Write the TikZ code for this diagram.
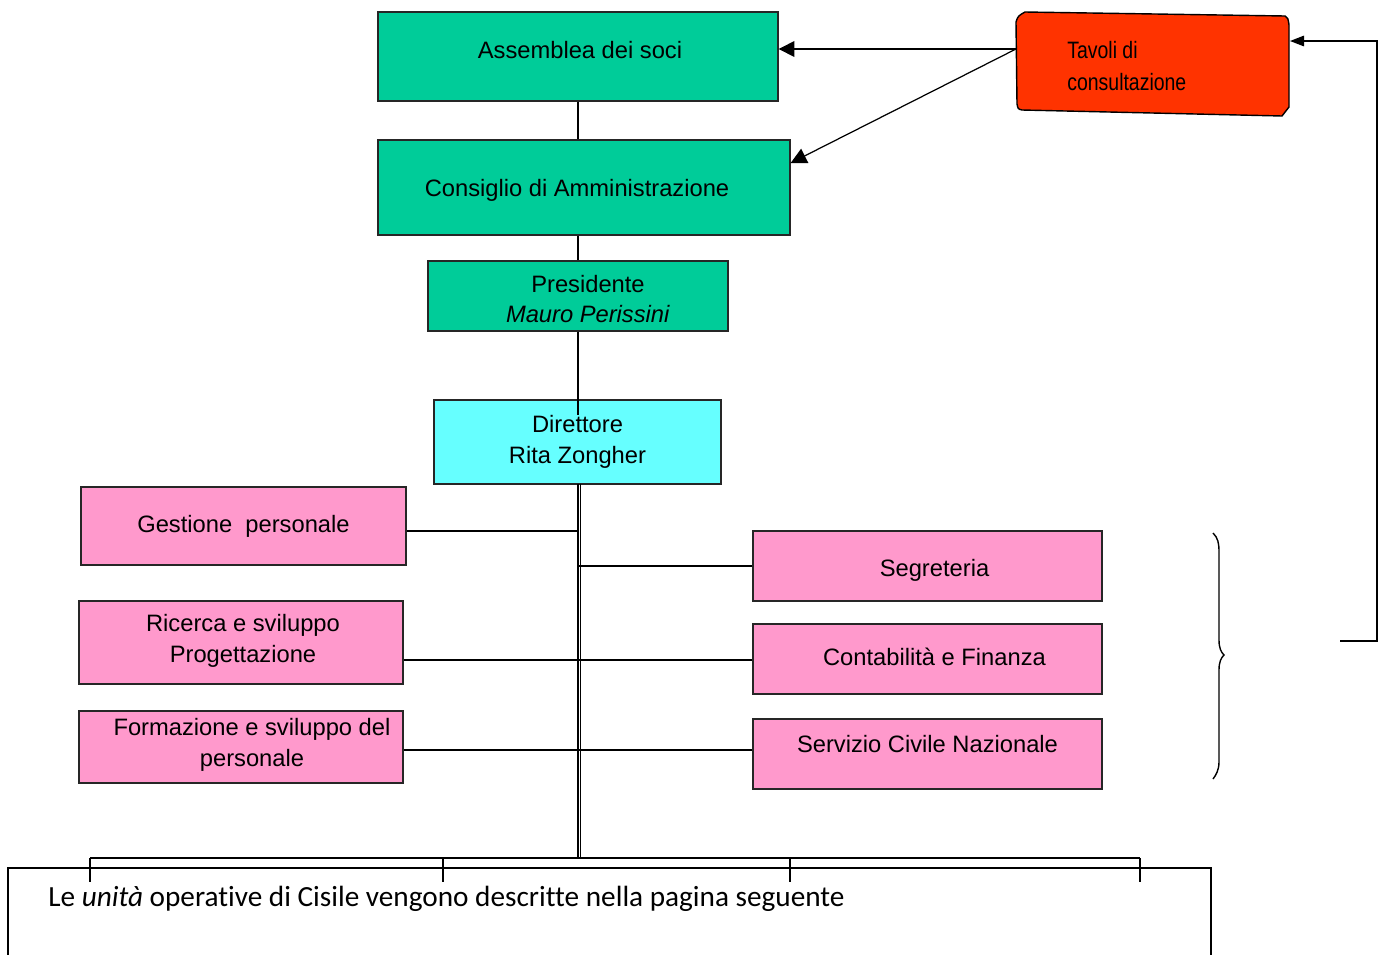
\documentclass[tikz,border=0pt]{standalone}
\usepackage{fontspec}
\setmainfont{Liberation Sans}
\newfontfamily\narrowfont[FakeStretch=0.82]{Liberation Sans}
\newfontfamily\calibri[Ligatures=NoCommon]{Carlito}
\usetikzlibrary{arrows.meta,calc}
\definecolor{cgreen}{HTML}{00CC99}
\definecolor{ccyan}{HTML}{66FFFF}
\definecolor{cpink}{HTML}{FF99CC}
\definecolor{cred}{HTML}{FF3300}
\begin{document}
\begin{tikzpicture}[x=0.02cm,y=-0.02cm,
  box/.style={draw=black!85, line width=0.8pt, inner sep=0pt, align=center,
    font=\fontsize{13.5}{17.5}\selectfont},
  gbox/.style={box, fill=cgreen},
  pbox/.style={box, fill=cpink},
  conn/.style={line width=0.65pt, black},
  arr/.style={line width=0.7pt, -{Triangle[length=9pt,width=9pt]}},
  arrs/.style={line width=0.8pt, -{Triangle[length=8pt,width=6pt]}},
  lbl/.style={font=\fontsize{13.5}{17.5}\selectfont, align=center, inner sep=0pt}]
\useasboundingbox (0,0) rectangle (1387,954);

% top boxes
\node[gbox, minimum width=8cm, minimum height=1.78cm,
  label={[lbl, xshift=0.04cm, yshift=0.13cm]center:Assemblea dei soci}] (ass) at (578,56.5) {};
\node[gbox, minimum width=8.24cm, minimum height=1.9cm,
  label={[lbl, xshift=-0.14cm, yshift=-0.05cm]center:Consiglio di Amministrazione}] (cda) at (584,187.5) {};
\node[gbox, minimum width=6cm, minimum height=1.4cm,
  label={[lbl, xshift=0.2cm, yshift=-0.06cm]center:Presidente\\\textit{Mauro Perissini}}] (pres) at (578,296) {};
\node[box, fill=ccyan, minimum width=5.74cm, minimum height=1.68cm] (dir) at (577.5,442) {Direttore\\Rita Zongher};

% red box
\draw[fill=cred, line width=0.8pt] (1025,12) -- (1285,16) .. controls (1288,18) .. (1289,25)
  -- (1289,107) -- (1282,116) -- (1022,110) .. controls (1018,109) .. (1017,104)
  -- (1016,22) .. controls (1018,16) .. (1025,12) -- cycle;
\node[anchor=west, align=left, inner sep=0pt, font=\narrowfont\fontsize{13.5}{18}\selectfont] (tav) at (1067,66) {Tavoli di\\consultazione};
\coordinate (tl) at (1016,49);

% left boxes
\node[pbox, minimum width=6.5cm, minimum height=1.56cm] (gest) at (243.5,526) {Gestione\ \ personale};
\node[pbox, minimum width=6.48cm, minimum height=1.66cm,
  label={[lbl, xshift=0.04cm, yshift=0.03cm]center:Ricerca e sviluppo\\Progettazione}] (ric) at (241,642.5) {};
\node[pbox, minimum width=6.48cm, minimum height=1.44cm,
  label={[lbl, xshift=0.22cm, yshift=0.04cm]center:Formazione e sviluppo del\\personale}] (form) at (241,747) {};

% right boxes
\node[pbox, minimum width=6.98cm, minimum height=1.4cm,
  label={[lbl, xshift=0.14cm, yshift=-0.08cm]center:Segreteria}] (seg) at (927.5,566) {};
\node[pbox, minimum width=6.98cm, minimum height=1.4cm,
  label={[lbl, xshift=0.14cm, yshift=0.04cm]center:Contabilità e Finanza}] (cont) at (927.5,659) {};
\node[pbox, minimum width=6.98cm, minimum height=1.4cm,
  label={[lbl, yshift=0.2cm]center:Servizio Civile Nazionale}] (serv) at (927.5,754) {};

% vertical chain
\draw[conn] (ass.south -| 578,0) -- (cda.north -| 578,0);
\draw[conn] (cda.south -| 578,0) -- (pres.north -| 578,0);
\coordinate (dirin) at (578,415);
\draw[conn] (pres.south) -- (dirin);

% spine
\coordinate (sptop) at (578,484);
\coordinate (spbot) at (578,858);
\draw[line width=0.6pt] (sptop) -- (spbot);
\draw[line width=0.6pt] ([xshift=0.05cm]sptop) -- ([xshift=0.05cm]spbot);

% branches
\draw[conn] ([yshift=-0.1cm]gest.east) -- ([yshift=-0.1cm]gest.east -| sptop);
\draw[conn] (seg.west) -- (seg.west -| sptop);
\draw[conn] ([yshift=-0.35cm]ric.east) -- ([yshift=-0.35cm]ric.east -| cont.west);
\draw[conn] ([yshift=-0.06cm]form.east) -- ([yshift=-0.06cm]form.east -| serv.west);

% bottom bus
\coordinate (b1) at (90,858);
\coordinate (b2) at (443,858);
\coordinate (b3) at (790,858);
\coordinate (b4) at (1140,858);
\draw[line width=0.6pt] (b1) -- (b4);
\draw[line width=1.2pt] (b2) -- (b3);
\foreach \b in {b1,b2,b3,b4} \draw[line width=0.6pt] (\b) -- ++(0,24);
\draw[line width=1.1pt] (8,960) -- (8,868) -- (1211,868) -- (1211,960);
\node[anchor=west, inner sep=0pt, font=\calibri\fontsize{16.65}{20}\selectfont] (note) at (48,899) {Le \textit{unità} operative di Cisile vengono descritte nella pagina seguente};

% arrows from Tavoli
\draw[arr] (tl) -- (ass.east |- tl);
\draw[arr] (tl) -- ([yshift=0.49cm]cda.east);

% feedback
\coordinate (fb) at (1340,641);
\draw[arrs] (fb) -- (1377,641) -- (1377,41) -- (1290,41);

% brace
\draw[line width=0.8pt] (1213,533) .. controls (1218,538) and (1219,543) .. (1219,552) -- (1219,640)
  .. controls (1219,648) and (1221,652) .. (1224,655)
  .. controls (1221,658) and (1219,662) .. (1219,670) -- (1219,762)
  .. controls (1219,770) and (1216,775) .. (1213,779);
\end{tikzpicture}
\end{document}
